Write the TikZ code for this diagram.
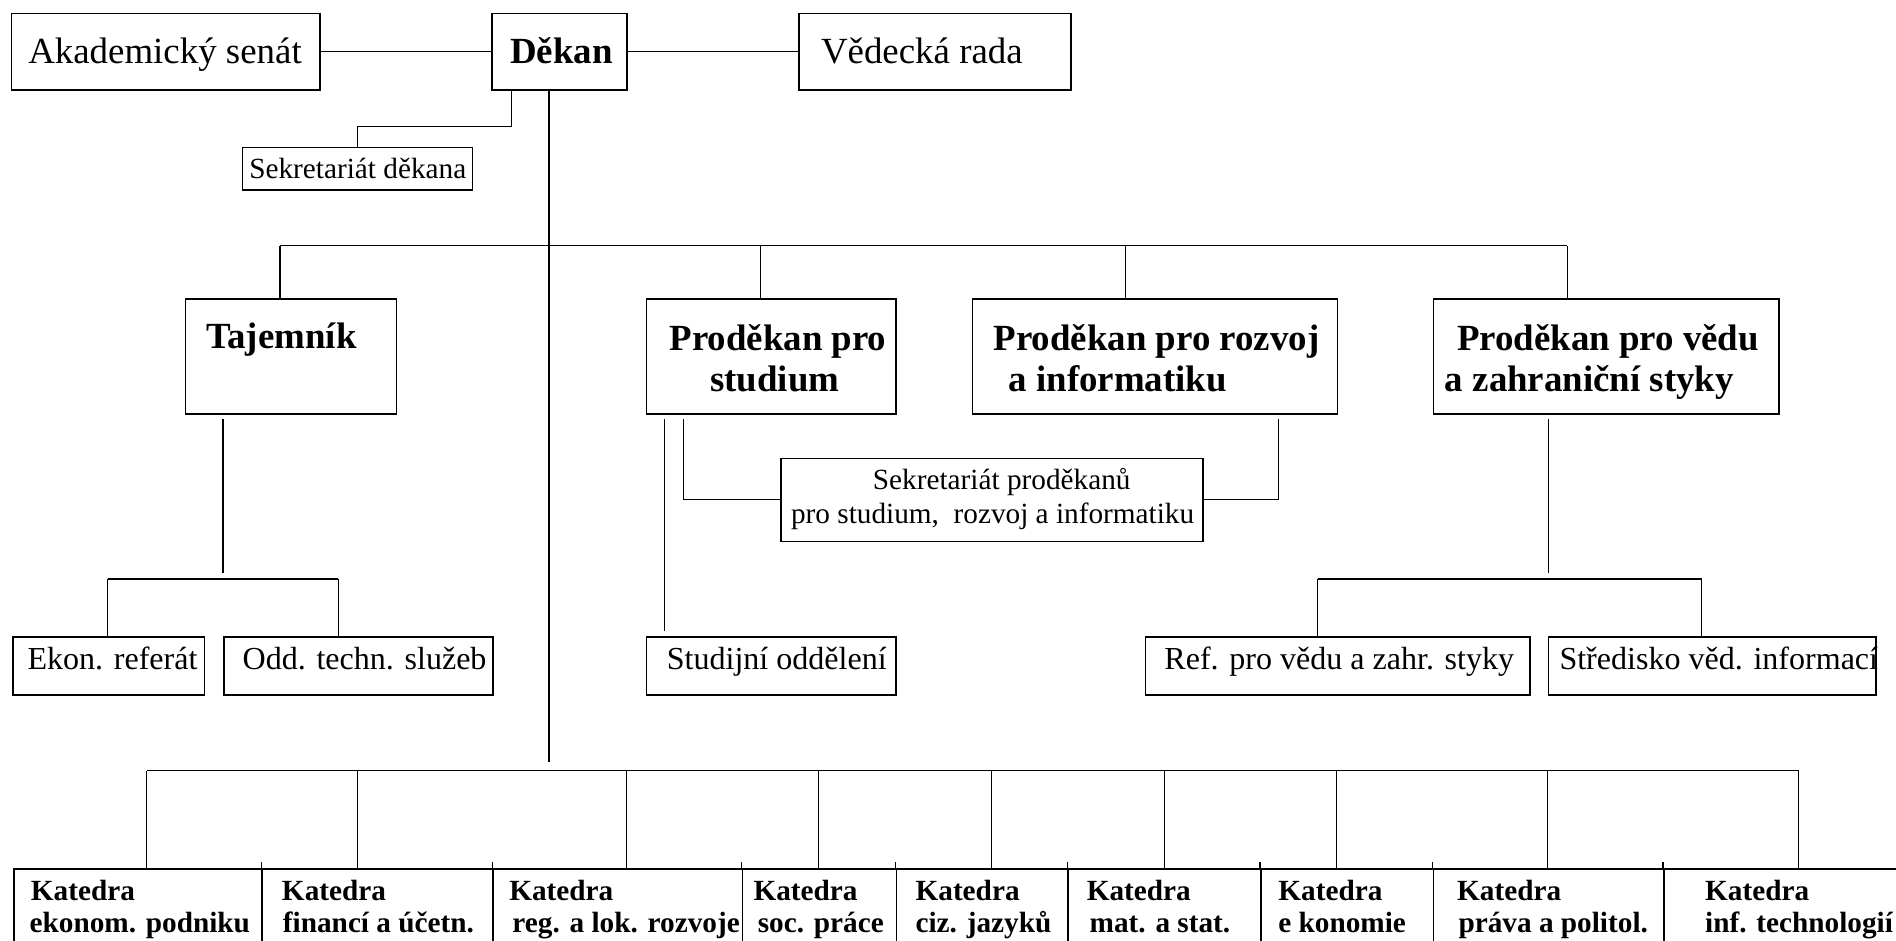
\documentclass[tikz,border=0pt]{standalone}
\usepackage{fontspec}
\setmainfont{Liberation Serif}
\begin{document}
\begin{tikzpicture}[x=1pt,y=-1pt,
  box/.style={draw, line width=1.3pt, inner sep=0pt, anchor=north west},
  conn/.style={line width=1pt},
  lbl/.style={inner sep=0pt, anchor=base west},
  big/.style={lbl, font=\fontsize{30.5}{36}\selectfont},
  bigb/.style={lbl, font=\fontsize{30.5}{36}\selectfont\bfseries},
  mid/.style={lbl, font=\fontsize{26.5}{32}\selectfont},
  sml/.style={lbl, font=\fontsize{24.2}{29}\selectfont},
  smlb/.style={lbl, font=\fontsize{24.2}{29}\selectfont\bfseries}]
\useasboundingbox[fill=white] (0,0) rectangle (1568,777.4);

% ---- top row
\node[box, minimum width=255.3pt, minimum height=63.4pt] (aka) at (8.7,10.5) {};
\node[box, minimum width=112pt, minimum height=63.4pt] (dek) at (406,10.5) {};
\node[box, minimum width=225pt, minimum height=63.4pt] (ved) at (660,10.5) {};
\node[big]  (akat) at (23.2,52.4) {Akademický senát};
\node[bigb] (dekt) at (421.8,52.4) {Děkan};
\node[big]  (vedt) at (678.8,52.4) {Vědecká rada};
\draw[conn] (aka.east) -- (dek.west);
\draw[conn] (dek.east) -- (ved.west);

% ---- secretariat of the dean
\node[box, minimum width=190pt, minimum height=35.3pt] (sekd) at (200,121.3) {};
\node[sml] (sekdt) at (206,147.5) {Sekretariát děkana};
\coordinate (d1) at (423,73.9);
\draw[conn] (d1) -- ++(0,30.9) -| (sekd.north);

% ---- main vertical
\coordinate (m0) at (454,73.9);
\coordinate (mainEnd) at (454,630);
\draw[conn] (m0) -- (mainEnd);

% ---- upper bus
\coordinate (uA) at (231.5,203.2);
\coordinate (uB) at (629,203.2);
\coordinate (uC) at (930.9,203.2);
\coordinate (uD) at (1296.1,203.2);
\draw[conn] (uA) -- (uD);

% ---- vice-dean boxes
\node[box, minimum width=174.4pt, minimum height=95.1pt] (taj) at (152.8,246.7) {};
\node[box, minimum width=206.4pt, minimum height=95.1pt] (pst) at (534,246.7) {};
\node[box, minimum width=301.9pt, minimum height=95.1pt] (prz) at (803.6,246.7) {};
\node[box, minimum width=285.9pt, minimum height=95.1pt] (pvz) at (1184.8,246.7) {};
\draw[conn] (uA) -- (uA |- taj.north);
\draw[conn] (uB) -- (uB |- pst.north);
\draw[conn] (uC) -- (uC |- prz.north);
\draw[conn] (uD) -- (uD |- pvz.north);
\node[bigb] (tajt)  at (170.4,288)   {Tajemník};
\node[bigb] (pst1)  at (553.5,289.5) {Proděkan pro};
\node[bigb] (pst2)  at (587.2,323.9) {studium};
\node[bigb] (prz1)  at (821.5,289.5) {Proděkan pro rozvoj};
\node[bigb] (prz2)  at (834,323.9)   {a informatiku};
\node[bigb] (pvz1)  at (1204.8,289.5) {Proděkan pro vědu};
\node[bigb] (pvz2)  at (1194.8,323.9) {a zahraniční styky};

% ---- under Tajemnik
\node[box, minimum width=158.4pt, minimum height=48pt] (ekon) at (10,526) {};
\node[box, minimum width=222.6pt, minimum height=48pt] (odd) at (184.4,526) {};
\node[mid] (ekont) at (22.6,554) {Ekon. referát};
\node[mid] (oddt) at (200.5,554) {Odd. techn. služeb};
\coordinate (t1) at (184.4,346.6);
\coordinate (t2) at (184.4,474);
\draw[conn] (t1) -- (t2);
\coordinate (tA) at (89.2,478.8);
\coordinate (tB) at (279.7,478.8);
\draw[conn] (tA) -- (tB);
\draw[conn] (tA) -- (tA |- ekon.north);
\draw[conn] (tB) -- (tB |- odd.north);

% ---- under Prodekan pro studium
\node[box, minimum width=206.4pt, minimum height=48pt] (stud) at (534,526) {};
\node[mid] (studt) at (551.3,554) {Studijní oddělení};
\coordinate (s0) at (549.8,346.6);
\coordinate (s0e) at (549.8,521.5);
\draw[conn] (s0) -- (s0e);

\node[box, minimum width=349.2pt, minimum height=68.5pt] (sekp) at (645,378.5) {};
\node[sml] (sekp1) at (721.7,404.7) {Sekretariát proděkanů};
\node[sml] (sekp2) at (654,432.8) {pro studium,\ \ rozvoj a informatiku};
\coordinate (s1) at (565.5,346.6);
\coordinate (s2) at (1057.6,346.6);
\draw[conn] (s1) |- (sekp.west);
\draw[conn] (sekp.east) -| (s2);

% ---- under Prodekan pro vedu
\node[box, minimum width=317.8pt, minimum height=48pt] (ref) at (946.7,526) {};
\node[box, minimum width=270.6pt, minimum height=48pt] (stred) at (1280,526) {};
\node[mid] (reft) at (962.8,554) {Ref. pro vědu a zahr. styky};
\node[mid] (stredt) at (1289.5,554) {Středisko věd. informací};
\coordinate (v1) at (1280.6,346.6);
\coordinate (v2) at (1280.6,474);
\draw[conn] (v1) -- (v2);
\coordinate (vA) at (1089.6,478.8);
\coordinate (vB) at (1407.3,478.8);
\draw[conn] (vA) -- (vB);
\draw[conn] (vA) -- (vA |- ref.north);
\draw[conn] (vB) -- (vB |- stred.north);

% ---- departments
\node[box, minimum width=205pt,   minimum height=80pt] (k1) at (11,718) {};
\node[box, minimum width=191pt,   minimum height=80pt] (k2) at (216,718) {};
\node[box, minimum width=206.4pt, minimum height=80pt] (k3) at (407,718) {};
\node[box, minimum width=127.3pt, minimum height=80pt] (k4) at (613.4,718) {};
\node[box, minimum width=141.9pt, minimum height=80pt] (k5) at (740.7,718) {};
\node[box, minimum width=159.4pt, minimum height=80pt] (k6) at (882.6,718) {};
\node[box, minimum width=142.8pt, minimum height=80pt] (k7) at (1042,718) {};
\node[box, minimum width=190.5pt, minimum height=80pt] (k8) at (1184.8,718) {};
\node[box, minimum width=210pt,   minimum height=80pt] (k9) at (1375.3,718) {};
\foreach \k in {k2,k3,k4,k5,k6,k7,k8,k9}
  \draw[line width=1pt] (\k.north west) -- ++(0,-5.4);

\coordinate (bA) at (121.3,637.3);
\coordinate (bB) at (295.7,637.3);
\coordinate (bC) at (518.2,637.3);
\coordinate (bD) at (677.1,637.3);
\coordinate (bE) at (820,637.3);
\coordinate (bF) at (962.8,637.3);
\coordinate (bG) at (1105.6,637.3);
\coordinate (bH) at (1280,637.3);
\coordinate (bI) at (1487.5,637.3);
\draw[conn] (bA) -- (bI);
\foreach \c in {bA,bB,bC,bD,bE,bF,bG,bH,bI}
  \draw[conn] (\c) -- (\c |- k1.north);

\node[smlb] (k1a) at (25.4,744.3) {Katedra};
\node[smlb] (k1b) at (24.3,771.3) {ekonom. podniku};
\node[smlb] (k2a) at (233,744.3) {Katedra};
\node[smlb] (k2b) at (233.8,771.3) {financí a účetn.};
\node[smlb] (k3a) at (421,744.3) {Katedra};
\node[smlb] (k3b) at (423.6,771.3) {reg. a lok. rozvoje};
\node[smlb] (k4a) at (623,744.3) {Katedra};
\node[smlb] (k4b) at (626.5,771.3) {soc. práce};
\node[smlb] (k5a) at (757,744.3) {Katedra};
\node[smlb] (k5b) at (757,771.3) {ciz. jazyků};
\node[smlb] (k6a) at (898.6,744.3) {Katedra};
\node[smlb] (k6b) at (901,771.3) {mat. a stat.};
\node[smlb] (k7a) at (1057,744.3) {Katedra};
\node[smlb] (k7b) at (1057,771.3) {e konomie};
\node[smlb] (k8a) at (1204.9,744.3) {Katedra};
\node[smlb] (k8b) at (1206,771.3) {práva a politol.};
\node[smlb] (k9a) at (1410,744.3) {Katedra};
\node[smlb] (k9b) at (1410,771.3) {inf. technologií};
\end{tikzpicture}
\end{document}
